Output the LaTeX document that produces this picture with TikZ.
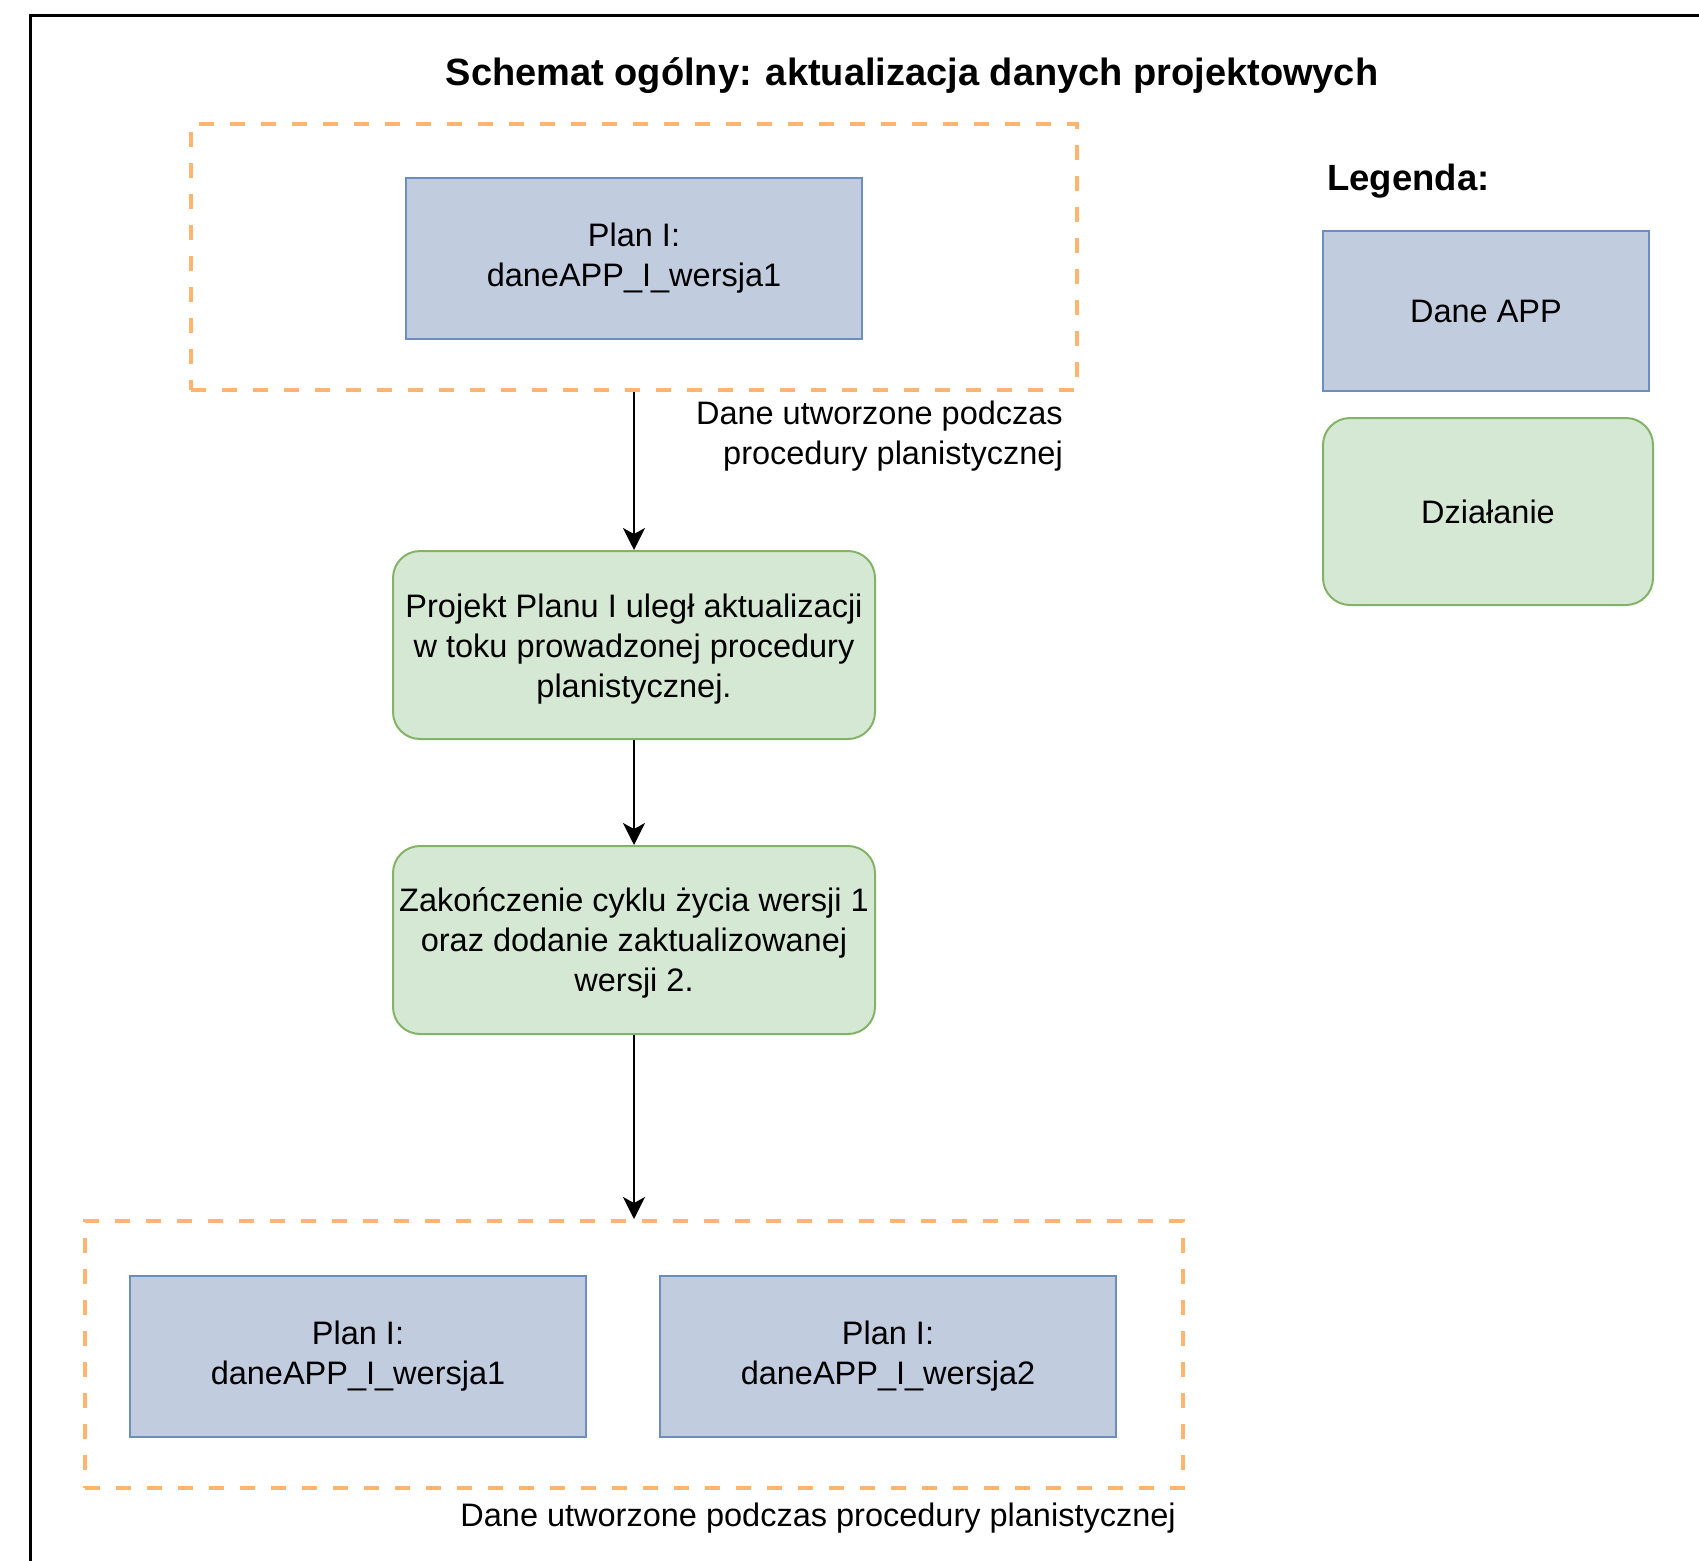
\documentclass[tikz,border=0pt]{standalone}
\usepackage{fontspec}
\setmainfont{Liberation Sans}
\usetikzlibrary{arrows.meta}
\definecolor{bluefill}{RGB}{193,204,223}
\definecolor{blueline}{RGB}{108,142,191}
\definecolor{greenfill}{RGB}{213,232,212}
\definecolor{greenline}{RGB}{130,179,102}
\definecolor{grouporange}{RGB}{255,181,112}
\tikzset{
  x=1pt, y=1pt,
  txt/.style={font=\fontsize{32.5}{40}\selectfont, inner sep=0pt, align=center},
  databox/.style={txt, draw=blueline, fill=bluefill, line width=2pt, minimum width=456pt, minimum height=161pt},
  actbox/.style={txt, draw=greenline, fill=greenfill, line width=2pt, rounded corners=27pt, minimum width=482pt, minimum height=188pt, text depth=4pt},
  groupbox/.style={draw=grouporange, line width=4pt, dash pattern=on 15pt off 16pt, inner sep=0pt},
  flow/.style={draw=black, line width=2pt, -{Stealth[length=22pt, width=22pt, inset=6pt]}},
  boldtxt/.style={font=\bfseries\fontsize{38}{44}\selectfont, inner sep=0pt},
}
\begin{document}
\begin{tikzpicture}
\useasboundingbox (0,0) rectangle (1699,-1560);
% outer frame (left and top edges)
\draw[line width=3pt] (30,-1562) -- (30,-16) -- (1701,-16);

\node[boldtxt] (title) at (912,-76) {Schemat ogólny: aktualizacja danych projektowych};

% top group
\node[groupbox, minimum width=886pt, minimum height=266pt] (grp1) at (634,-257) {};
\node[databox] (plan1) at (634,-258.5) {Plan I:\\daneAPP\_I\_wersja1};
\node[txt, align=right, anchor=east] (lab1) at (1063,-436) {Dane utworzone podczas\\procedury planistycznej};

% actions
\node[actbox, text depth=0pt] (act1) at (634,-645) {};
\node[txt] (act1txt) at (634,-649) {Projekt Planu I uległ aktualizacji\\w toku prowadzonej procedury\\planistycznej.};
\node[actbox, text depth=0pt] (act2) at (634,-940) {};
\node[txt] (act2txt) at (634,-943) {Zakończenie cyklu życia wersji 1\\oraz dodanie zaktualizowanej\\wersji 2.};

% bottom group
\node[groupbox, minimum width=1098pt, minimum height=267pt] (grp2) at (634,-1354.5) {};
\node[databox] (plan1b) at (358,-1356.5) {Plan I:\\daneAPP\_I\_wersja1};
\node[databox] (plan2b) at (888,-1356.5) {Plan I:\\daneAPP\_I\_wersja2};
\node[txt, anchor=east] (lab2) at (1176,-1518) {Dane utworzone podczas procedury planistycznej};

% connectors
\draw[flow] (grp1.south) -- (act1.north);
\draw[flow] (act1.south) -- (act2.north);
\draw[flow] (act2.south) -- (grp2.north);

% legend
\node[boldtxt, anchor=west, font=\bfseries\fontsize{36.5}{44}\selectfont] (legtitle) at (1327,-181) {Legenda:};
\node[databox, minimum width=326pt, minimum height=160pt] (legdata) at (1486,-311) {Dane APP};
\node[actbox, minimum width=330pt, minimum height=187pt, text depth=0pt] (legact) at (1488,-511.5) {Działanie};
\end{tikzpicture}
\end{document}
